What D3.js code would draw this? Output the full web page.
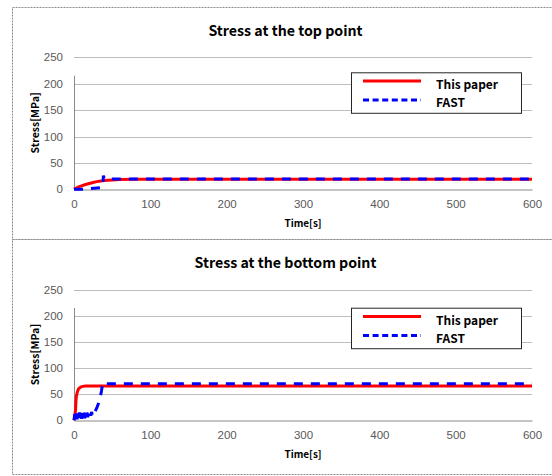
<!DOCTYPE html>
<html>
<head>
<meta charset="utf-8">
<script src="https://cdn.jsdelivr.net/npm/d3@7"></script>
<style>
  body { margin: 0; background: #fff; }
  svg { display: block; font-family: "Noto Sans CJK KR", "Noto Sans", sans-serif; }
</style>
</head>
<body>
<div id="chart-container"></div>
<script>
// time [s] and stress [MPa]
const topPaperTime = [0, 3, 6, 10, 15, 20, 25, 30, 35, 40, 50, 60, 80, 100, 150, 200, 300, 400, 500, 600];
const topPaperStress = [0, 2.5, 4.5, 6.5, 9, 11, 13, 14.5, 15.7, 16.6, 17.8, 18.5, 18.9, 19, 19, 19, 19, 19, 19, 19];
const topFastTime = [0, 5, 10, 14, 18, 22, 26, 30, 34, 37.5, 38, 38.5, 39.5, 42, 50, 100, 200, 300, 400, 500, 600];
const topFastStress = [0, 0, 0, 0.5, 1, 1.5, 2, 2.5, 3, 4, 12, 26, 21, 19.5, 19.5, 19.5, 19.5, 19.5, 19.5, 19.5, 19.5];

const bottomPaperTime = [0, 1, 2, 2.5, 3, 4, 5, 6, 8, 10, 15, 30, 100, 200, 300, 400, 500, 600];
const bottomPaperStress = [0, 5, 20, 35, 45, 52, 57, 60, 63, 64.5, 65.5, 65.5, 65.5, 65.5, 65.5, 65.5, 65.5, 65.5];
const bottomFastTime = [0, 1, 2, 3, 4, 5, 6, 7, 8, 9, 10, 11, 12, 13, 14, 15, 16, 17, 18, 19, 20, 21, 22, 23, 24, 25, 26, 28, 30, 32, 34, 36, 37, 38, 39, 40, 100, 200, 300, 400, 500, 600];
const bottomFastStress = [0, 12, 3, 14, 2, 13, 4, 15, 5, 12, 3, 14, 6, 15, 4, 13, 8, 15, 6, 14, 8, 15, 9, 16, 10, 15, 12, 18, 24, 32, 42, 56, 66, 72, 70, 70, 70, 70, 70, 70, 70, 70];

const xTicks = [0, 100, 200, 300, 400, 500, 600];
const yTicks = [0, 50, 100, 150, 200, 250];
const seriesNames = ['This paper', 'FAST'];

const panels = [
  { title: 'Stress at the top point', top: 7, paper: [topPaperTime, topPaperStress], fast: [topFastTime, topFastStress],
    plotTop: 57.3, plotBottom: 189.3, legendTop: 72.3 },
  { title: 'Stress at the bottom point', top: 239, paper: [bottomPaperTime, bottomPaperStress], fast: [bottomFastTime, bottomFastStress],
    plotTop: 289.7, plotBottom: 420.3, legendTop: 307.7 }
];

const width = 552;
const height = 476;

const svg = d3.select('#chart-container')
  .append('svg')
  .attr('width', width)
  .attr('height', height);

panels.forEach((p, i) => {
  const g = svg.append('g');

  // dashed frame round each chart
  g.append('rect')
    .attr('x', 12.5)
    .attr('y', p.top + 0.5)
    .attr('width', 560)
    .attr('height', i === 0 ? 232 : 235)
    .attr('fill', 'none')
    .attr('stroke', '#8c8c8c')
    .attr('stroke-dasharray', '2,1');

  const xScale = d3.scaleLinear().domain([0, 600]).range([74, 532]);
  const yScale = d3.scaleLinear().domain([0, 250]).range([p.plotBottom, p.plotTop]);

  // gridlines
  g.append('g')
    .selectAll('line')
    .data(yTicks.filter(d => d > 0))
    .enter().append('line')
    .attr('x1', xScale(0))
    .attr('x2', xScale(600))
    .attr('y1', d => Math.round(yScale(d)) + 0.5)
    .attr('y2', d => Math.round(yScale(d)) + 0.5)
    .attr('stroke', '#bdbdbd')
    .attr('stroke-width', 1);

  // y axis
  const yAxis = d3.axisLeft(yScale).tickValues(yTicks).tickSize(0).tickPadding(11);
  const yg = g.append('g')
    .attr('transform', `translate(${xScale(0)},0)`)
    .call(yAxis);
  yg.select('.domain').remove();
  yg.append('line')
    .attr('x1', 0.5).attr('x2', 0.5)
    .attr('y1', yScale(0)).attr('y2', yScale(215))
    .attr('stroke', '#8a8a8a');

  // x axis
  const xAxis = d3.axisBottom(xScale).tickValues(xTicks).tickSize(0).tickPadding(10);
  const xg = g.append('g')
    .attr('transform', `translate(0,${Math.round(yScale(0)) + 0.5})`)
    .call(xAxis);
  xg.select('.domain').attr('stroke', '#8a8a8a');

  g.selectAll('.tick text')
    .attr('fill', '#595959')
    .attr('font-size', 11.5);

  // lines
  const line = d3.line()
    .x(d => xScale(d[0]))
    .y(d => yScale(d[1]));

  const paperData = d3.zip(p.paper[0], p.paper[1]);
  const fastData = d3.zip(p.fast[0], p.fast[1]);

  g.append('path')
    .datum(paperData)
    .attr('d', line)
    .attr('fill', 'none')
    .attr('stroke', '#ff0000')
    .attr('stroke-width', 3);

  g.append('path')
    .datum(fastData)
    .attr('d', line)
    .attr('fill', 'none')
    .attr('stroke', '#0000ff')
    .attr('stroke-width', 3)
    .attr('stroke-dasharray', '9,8');

  // titles
  g.append('text')
    .attr('x', 285.5)
    .attr('y', p.top + 29)
    .attr('text-anchor', 'middle')
    .attr('font-size', 14.2)
    .attr('font-weight', 'bold')
    .attr('fill', '#000')
    .text(p.title);

  g.append('text')
    .attr('x', 303)
    .attr('y', yScale(0) + 38)
    .attr('text-anchor', 'middle')
    .attr('font-size', 10)
    .attr('font-weight', 'bold')
    .text('Time[s]');

  const yMid = (p.plotTop + p.plotBottom) / 2 - 0.5;
  g.append('text')
    .attr('transform', `translate(39,${yMid}) rotate(-90)`)
    .attr('text-anchor', 'middle')
    .attr('font-size', 10.5)
    .attr('font-weight', 'bold')
    .text('Stress[MPa]');

  // legend
  const lg = g.append('g').attr('transform', `translate(351,${p.legendTop})`);
  lg.append('rect')
    .attr('x', 0.5).attr('y', 0.5)
    .attr('width', 170).attr('height', 40.5)
    .attr('fill', '#fff')
    .attr('stroke', '#262626');
  lg.append('line')
    .attr('x1', 12).attr('x2', 70).attr('y1', 8.7).attr('y2', 8.7)
    .attr('stroke', '#ff0000').attr('stroke-width', 3);
  lg.append('line')
    .attr('x1', 12).attr('x2', 70).attr('y1', 27.8).attr('y2', 27.8)
    .attr('stroke', '#0000ff').attr('stroke-width', 3)
    .attr('stroke-dasharray', '6,3.6');
  lg.selectAll('.legend-label')
    .data(seriesNames)
    .enter().append('text')
    .attr('class', 'legend-label')
    .attr('x', 85)
    .attr('y', (d, k) => k === 0 ? 17 : 35)
    .attr('font-size', 12)
    .attr('font-weight', 'bold')
    .text(d => d);
});
</script>
</body>
</html>
